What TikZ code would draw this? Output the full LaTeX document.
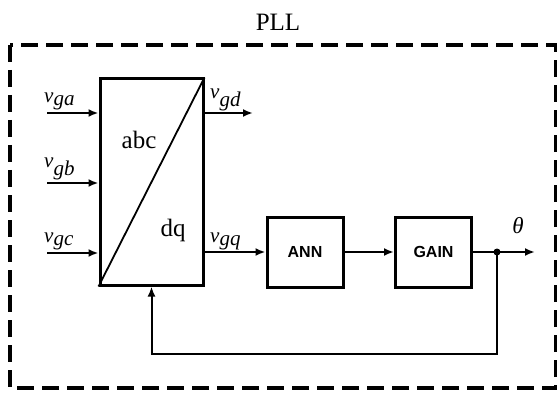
\documentclass[tikz,border=0pt]{standalone}
\usepackage{fontspec}
\setmainfont{Liberation Serif}
\newfontfamily\blocksans{Liberation Sans}
\usetikzlibrary{arrows.meta,positioning}

\begin{document}
\begin{tikzpicture}[x=1pt,y=-1pt,>={Latex[length=10pt,width=8pt]},
  sig/.style={line width=2pt},
  blk/.style={draw,line width=3pt,minimum width=76pt,minimum height=70pt,inner sep=0pt,
    font=\blocksans\bfseries\fontsize{16}{18}\selectfont},
  lbl/.style={font=\fontsize{21}{24}\selectfont,inner sep=0pt}]
\useasboundingbox (0,0) rectangle (557,393);
\draw[line width=3.5pt,dash pattern=on 17pt off 8pt] (10,45) rectangle (556,388);
\node[font=\fontsize{25}{28}\selectfont] (title) at (278,22) {PLL};
% abc/dq block
\node[draw,line width=3pt,minimum width=103pt,minimum height=206pt,inner sep=0pt] (conv) at (151.5,182) {};
\draw[line width=1.8pt] (conv.south west) -- (conv.north east);
\node[font=\fontsize{25}{28}\selectfont] (abc) at (139,140) {abc};
\node[font=\fontsize{25}{28}\selectfont] (dq) at (173,230) {dq};
\foreach \n/\y in {a/113,b/183,c/253} {
  \coordinate (in\n) at (47,\y);
  \draw[sig,->] (in\n) -- (in\n -| conv.west);
  \node[lbl,anchor=south west] (lab\n) at (44,\y-3) {$\textit{v}_{\textit{g\n}}$};
}
\coordinate (outd) at (253,113);
\draw[sig,->] (outd -| conv.east) -- (outd);
\node[lbl,anchor=south west] (labd) at (210,111) {$\textit{v}_{\textit{gd}}$};
% ANN and gain
\node[blk] (ann) at (305,252) {ANN};
\node[blk] (gain) at (433.5,252) {GAIN};
\draw[sig,->] (conv.east |- ann.west) -- (ann.west);
\node[lbl,anchor=south west] (labq) at (210,250) {$\textit{v}_{\textit{gq}}$};
\draw[sig,->] (ann) -- (gain);
\coordinate (tap) at (497,252);
\coordinate (out) at (535,252);
\draw[sig,->] (gain.east) -- (out);
\fill (tap) circle (3.5pt);
\node[font=\fontsize{23}{26}\selectfont] (theta) at (518,226) {\textit{θ}};
% feedback
\coordinate (fb) at (497,354);
\draw[sig,->] (tap) -- (fb) -| (conv.south);
\end{tikzpicture}
\end{document}
